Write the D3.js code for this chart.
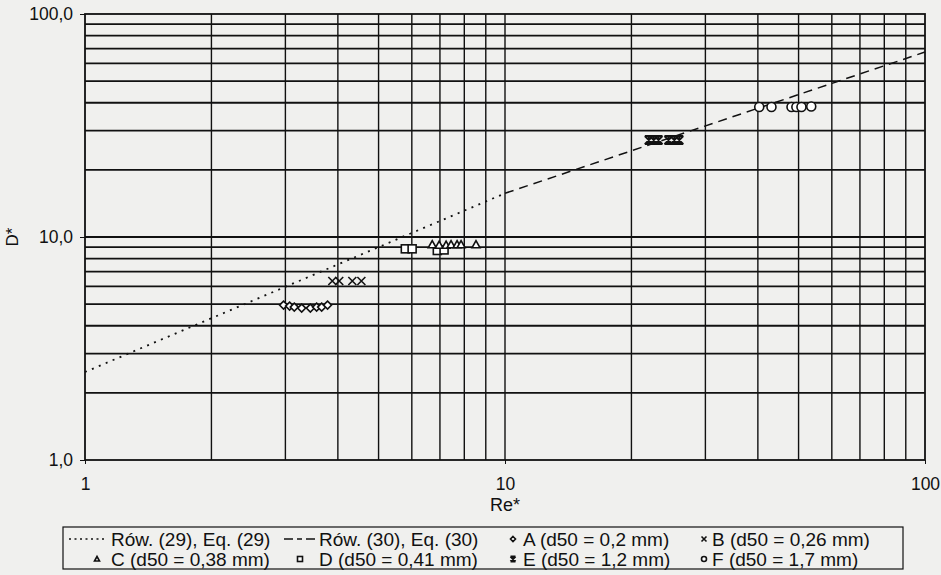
<!DOCTYPE html>
<html><head><meta charset="utf-8">
<script src="https://cdn.jsdelivr.net/npm/d3@7"></script>
<style>
html,body{margin:0;padding:0;background:#f0f0ee;}
svg{display:block;font-family:"Liberation Sans",Arial,sans-serif;}
</style></head>
<body>
<svg id="c" width="941" height="575"></svg>
<script>
// ---- data ----
const xTickValues = [1, 10, 100];
const xTickLabels = ["1", "10", "100"];
const yTickValues = [1, 10, 100];
const yTickLabels = ["1,0", "10,0", "100,0"];

const eq29 = [[1, 2.48], [10, 15.7]];   // Rów. (29) dotted
const eq30 = [[10, 15.7], [100, 67.5]]; // Rów. (30) dashed

const seriesA = [[2.97,4.95],[3.07,4.9],[3.15,4.85],[3.28,4.8],[3.44,4.8],[3.56,4.85],[3.66,4.85],[3.78,4.95]];
const seriesB = [[3.88,6.35],[4.03,6.35],[4.33,6.35],[4.55,6.35]];
const seriesC = [[6.71,9.25],[6.97,9.2],[7.24,9.2],[7.44,9.25],[7.69,9.25],[7.86,9.25],[8.53,9.25]];
const seriesD = [[5.79,8.85],[6.01,8.85],[6.9,8.7],[7.16,8.75]];
const seriesE = [[22.0,27.2],[22.6,27.2],[23.2,27.2],[24.5,27.2],[25.3,27.2],[26.0,27.2]];
const seriesF = [[40.3,38.3],[43.1,38.3],[48.1,38.3],[49.4,38.3],[50.8,38.3],[53.6,38.5]];

const legendLabels = ["Rów. (29), Eq. (29)", "Rów. (30), Eq. (30)",
  "A (d50 = 0,2 mm)", "B (d50 = 0,26 mm)",
  "C (d50 = 0,38 mm)", "D (d50 = 0,41 mm)",
  "E (d50 = 1,2 mm)", "F (d50 = 1,7 mm)"];

// ---- layout ----
const L = 85, R = 925, T = 14, B = 460;
const svg = d3.select("#c");
const x = d3.scaleLog().domain([1, 100]).range([L, R]);
const y = d3.scaleLog().domain([1, 100]).range([B, T]);

// grid
const minor = [];
for (let dec of [1, 10]) for (let k = 2; k <= 9; k++) minor.push(dec * k);
const g = svg.append("g");
g.selectAll(".vg").data(minor.concat([10])).enter().append("line")
  .attr("x1", d => x(d)).attr("x2", d => x(d)).attr("y1", T).attr("y2", B)
  .attr("stroke", "#111").attr("stroke-width", 1.4);
g.selectAll(".hg").data(minor.concat([10])).enter().append("line")
  .attr("y1", d => y(d)).attr("y2", d => y(d)).attr("x1", L).attr("x2", R)
  .attr("stroke", "#111").attr("stroke-width", 1.8);
// frame
svg.append("rect").attr("x", L).attr("y", T).attr("width", R - L).attr("height", B - T)
  .attr("fill", "none").attr("stroke", "#111").attr("stroke-width", 1.8);

// axes
const yAxis = d3.axisLeft(y).tickValues(yTickValues).tickFormat((d, i) => yTickLabels[i]).tickSize(5).tickPadding(7);
const ya = svg.append("g").attr("transform", `translate(${L},0)`).call(yAxis);
ya.select(".domain").remove();
ya.selectAll("text").attr("font-size", 17.5).attr("fill", "#111").attr("font-family", "Liberation Sans, Arial, sans-serif");
ya.selectAll("line").attr("stroke", "#111");

const xAxis = d3.axisBottom(x).tickValues(xTickValues).tickFormat((d, i) => xTickLabels[i]).tickSize(4).tickPadding(14);
const xa = svg.append("g").attr("transform", `translate(0,${B})`).call(xAxis);
xa.select(".domain").remove();
xa.selectAll("text").attr("font-size", 17.5).attr("fill", "#111").attr("font-family", "Liberation Sans, Arial, sans-serif");
xa.selectAll("line").attr("stroke", "#111");

svg.append("text").attr("x", 505).attr("y", 505).attr("dy", "0.35em").attr("text-anchor", "middle")
  .attr("font-size", 18).attr("fill", "#111").text("Re*");
svg.append("text").attr("transform", `translate(18,${(T + B) / 2}) rotate(-90)`).attr("text-anchor", "middle")
  .attr("font-size", 17).attr("fill", "#111").text("D*");

// lines
const line = d3.line().x(d => x(d[0])).y(d => y(d[1]));
svg.append("path").datum(eq29).attr("d", line).attr("fill", "none")
  .attr("stroke", "#111").attr("stroke-width", 1.8).attr("stroke-dasharray", "2,5.5");
svg.append("path").datum(eq30).attr("d", line).attr("fill", "none")
  .attr("stroke", "#111").attr("stroke-width", 1.5).attr("stroke-dasharray", "9,6");

// markers
function marker(sel, type, s) {
  const h = s / 2;
  if (type === "diamond") sel.append("path").attr("d", `M0,${-h}L${h},0L0,${h}L${-h},0Z`).attr("fill", "#fff").attr("stroke", "#111").attr("stroke-width", 1.6);
  if (type === "cross") sel.append("path").attr("d", `M${-h},${-h}L${h},${h}M${-h},${h}L${h},${-h}`).attr("stroke", "#111").attr("stroke-width", 1.6);
  if (type === "triangle") sel.append("path").attr("d", `M0,${-h}L${h},${h * 0.8}L${-h},${h * 0.8}Z`).attr("fill", "#fff").attr("stroke", "#111").attr("stroke-width", 1.6);
  if (type === "square") sel.append("rect").attr("x", -h).attr("y", -h).attr("width", s).attr("height", s).attr("fill", "#fff").attr("stroke", "#111").attr("stroke-width", 1.6);
  if (type === "star") sel.append("path").attr("d", `M${-h},${-h}L${h},${h}M${-h},${h}L${h},${-h}M0,${-h}L0,${h}M${-h},${-h}L${h},${-h}M${-h},${h}L${h},${h}`).attr("stroke", "#111").attr("stroke-width", 2);
  if (type === "circle") sel.append("circle").attr("r", h).attr("fill", "#fff").attr("stroke", "#111").attr("stroke-width", 1.6);
}
const series = [
  [seriesA, "diamond", 8], [seriesB, "cross", 8], [seriesD, "square", 8],
  [seriesC, "triangle", 8], [seriesE, "star", 8], [seriesF, "circle", 9]];
series.forEach(([data, type, s]) => {
  svg.append("g").selectAll("g").data(data).enter().append("g")
    .attr("transform", d => `translate(${x(d[0])},${y(d[1])})`)
    .each(function () { marker(d3.select(this), type, s); });
});

// legend
const lg = svg.append("g");
lg.append("rect").attr("x", 63).attr("y", 527).attr("width", 840).attr("height", 42)
  .attr("fill", "none").attr("stroke", "#111").attr("stroke-width", 1.2);
const rows = [539, 559];
const items = [
  {k: "dot", c: 0, r: 0}, {k: "dash", c: 1, r: 0}, {k: "diamond", c: 2, r: 0}, {k: "cross", c: 3, r: 0},
  {k: "triangle", c: 0, r: 1}, {k: "square", c: 1, r: 1}, {k: "star", c: 2, r: 1}, {k: "circle", c: 3, r: 1}];
const textX = [111, 319, 523, 712];
const mX = [[0, 0, 513, 704], [97, 300, 513, 704]];
items.forEach((it, i) => {
  const yy = rows[it.r];
  if (it.k === "dot") lg.append("line").attr("x1", 69).attr("x2", 106).attr("y1", yy).attr("y2", yy)
    .attr("stroke", "#111").attr("stroke-width", 1.6).attr("stroke-dasharray", "2,3.5");
  else if (it.k === "dash") lg.append("line").attr("x1", 284).attr("x2", 316).attr("y1", yy).attr("y2", yy)
    .attr("stroke", "#111").attr("stroke-width", 1.4).attr("stroke-dasharray", "9,4,5,4");
  else {
    const mg = lg.append("g").attr("transform", `translate(${mX[it.r][it.c]},${yy})`);
    marker(mg, it.k, 5);
  }
  lg.append("text").attr("x", textX[it.c]).attr("y", yy).attr("dy", "0.35em")
    .attr("font-size", 19).attr("fill", "#111").text(legendLabels[i]);
});
</script>
</body></html>
